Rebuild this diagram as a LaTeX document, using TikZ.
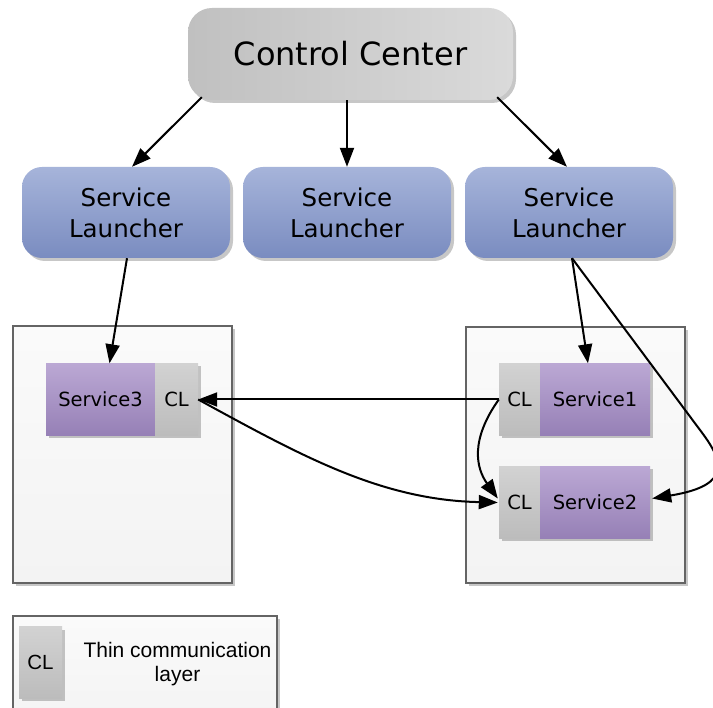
\documentclass[tikz,border=0pt]{standalone}
\usepackage{fontspec}
\setmainfont{DejaVu Sans}
\newfontfamily\arialf{Liberation Sans}
\usetikzlibrary{arrows.meta,calc,shadows}
\definecolor{ccL}{RGB}{192,192,192}
\definecolor{ccR}{RGB}{218,218,218}
\definecolor{slT}{RGB}{166,180,218}
\definecolor{slB}{RGB}{122,140,192}
\definecolor{svT}{RGB}{187,168,212}
\definecolor{svB}{RGB}{150,128,182}
\definecolor{clT}{RGB}{210,210,210}
\definecolor{clB}{RGB}{188,188,188}
\definecolor{contB}{RGB}{100,100,100}
\definecolor{contF}{RGB}{243,243,243}
\begin{document}
\begin{tikzpicture}[x=1pt,y=-1pt,
  shad/.style={drop shadow={shadow xshift=3pt,shadow yshift=-3pt,opacity=0.22,fill=black}},
  ccbox/.style={shad,rounded corners=24pt,left color=ccL,right color=ccR,draw=none,
    minimum width=325pt,minimum height=92pt,inner sep=0pt,font=\fontsize{32}{38}\selectfont},
  slbox/.style={shad,rounded corners=20pt,top color=slT,bottom color=slB,draw=none,
    minimum width=208pt,minimum height=91pt,inner sep=0pt,align=center,
    font=\fontsize{24.5}{31}\selectfont},
  contbox/.style={shad,draw=contB,line width=1.4pt,top color=white!60!contF,bottom color=contF,
    inner sep=0pt},
  svbox/.style={shad,top color=svT,bottom color=svB,draw=none,minimum width=110pt,
    minimum height=72pt,inner sep=0pt,font=\fontsize{19.5}{23}\selectfont},
  clbox/.style={shad,top color=clT,bottom color=clB,draw=none,minimum width=42pt,
    minimum height=72pt,inner sep=0pt,font=\fontsize{19.5}{23}\selectfont},
  conn/.style={line width=2pt,-{Triangle[length=19pt,width=14pt]}}
]
\useasboundingbox (0,0) rectangle (713,708);
\clip (0,0) rectangle (713,708);

% top level
\node[ccbox] (cc) at (350.5,54) {Control Center};
\node[slbox] (sl1) at (126,212.5) {Service\\Launcher};
\node[slbox] (sl2) at (347,212.5) {Service\\Launcher};
\node[slbox] (sl3) at (569,212.5) {Service\\Launcher};

% containers
\node[contbox,minimum width=219pt,minimum height=257pt] (lc) at (122.5,454.5) {};
\node[contbox,minimum width=219pt,minimum height=256pt] (rc) at (575.5,455) {};

% services
\node[svbox,minimum width=109pt] (s3) at (100.5,399.5) {Service3};
\node[clbox,minimum width=43pt] (cl3) at (176.5,399.5) {CL};
\node[clbox,minimum width=41pt] (cl1) at (519.5,399.5) {CL};
\node[svbox] (s1) at (595,399.5) {Service1};
\node[clbox,minimum width=41pt] (cl2) at (519.5,502.5) {CL};
\node[svbox] (s2) at (595,502.5) {Service2};

% legend
\node[contbox,minimum width=264pt,minimum height=114pt] (lg) at (145,673) {};
\node[clbox,minimum width=43pt,minimum height=71pt,font=\arialf\fontsize{20.5}{24}\selectfont] (lcl) at (40.5,662.5) {CL};
\node[align=center,inner sep=0pt,font=\arialf\fontsize{21}{24}\selectfont] (ltx) at (177.5,664) {Thin communication\\layer};

% connectors
\draw[conn] ($(cc.south west)+(14,-3)$) -- ($(sl1.north)+(6,0)$);
\draw[conn] (sl2.north |- cc.south) -- (sl2.north);
\draw[conn] ($(cc.south east)+(-16,-3)$) -- ($(sl3.north)+(-2,0)$);
\draw[conn] ($(sl1.south)+(1,0)$) -- ($(s3.north)+(9,0)$);
\draw[conn] ($(sl3.south)+(3,0)$) -- ($(s1.north)+(-7,0)$);
\coordinate (bend) at (700,430);
\draw[conn] ($(sl3.south)+(3,0)$) -- (bend) .. controls (722,459) and (735,485) .. ($(s2.east)+(2,-4)$);
\draw[conn] (cl1.west) -- (cl3.east);
\draw[conn] (cl1.west) .. controls (470,440) and (476,468) .. ($(cl2.west)+(-1,-4)$);
\draw[conn] (cl3.east) .. controls (300,455) and (380,500) .. ($(cl2.west)+(-1,0)$);
\end{tikzpicture}
\end{document}
